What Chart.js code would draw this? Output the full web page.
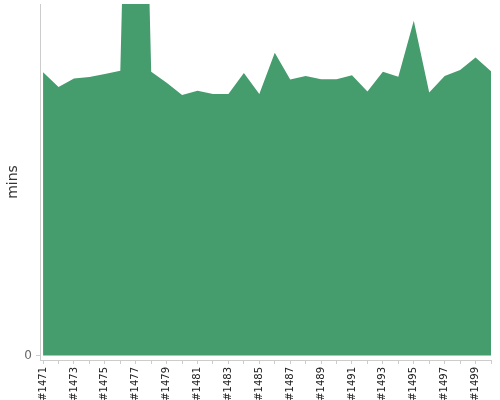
<!DOCTYPE html>
<html>
<head>
<meta charset="utf-8">
<script src="https://cdn.jsdelivr.net/npm/chart.js@4"></script>
<style>
  html,body{margin:0;padding:0;background:#fff;}
  #wrap{width:500px;height:400px;}
</style>
</head>
<body>
<div id="wrap"><canvas id="c" width="500" height="400"></canvas></div>
<script>
const builds = ["#1471","#1472","#1473","#1474","#1475","#1476","#1477","#1478","#1479","#1480",
  "#1481","#1482","#1483","#1484","#1485","#1486","#1487","#1488","#1489","#1490",
  "#1491","#1492","#1493","#1494","#1495","#1496","#1497","#1498","#1499","#1500"];
const durations = [80.6,76.4,78.8,79.2,80.1,81.0,260,80.7,77.6,74.1,
  75.3,74.4,74.4,80.4,74.4,86.1,78.5,79.5,78.6,78.6,
  79.7,75.1,80.7,79.3,95.2,74.8,79.5,81.2,84.8,80.9];
const yTicks = [0];

const font = "'DejaVu Sans', sans-serif";
new Chart(document.getElementById('c'), {
  type: 'line',
  data: {
    datasets: [{
      data: durations.map((v, i) => ({x: i, y: v})),
      fill: 'origin',
      backgroundColor: '#459c6c',
      borderWidth: 0,
      pointRadius: 0,
      tension: 0
    }]
  },
  options: {
    responsive: false,
    animation: false,
    layout: {padding: {top: 4, right: 9, left: 0, bottom: 0}},
    plugins: {legend: {display: false}, tooltip: {enabled: false}},
    scales: {
      x: {
        type: 'linear',
        min: -0.2,
        max: builds.length - 1,
        afterBuildTicks: s => { s.ticks = builds.map((_, i) => ({value: i})); },
        afterFit: s => { s.height = 40; s.paddingLeft = 0; s.paddingRight = 0; },
        grid: {drawOnChartArea: false, tickLength: 4, color: '#ccc'},
        border: {color: '#ccc'},
        ticks: {
          autoSkip: false,
          maxRotation: 90, minRotation: 90,
          padding: 3,
          color: '#222',
          font: {family: font, size: 10},
          callback: v => (v % 2 === 0 ? builds[v] : '')
        }
      },
      y: {
        min: -1.28,
        max: 100,
        afterBuildTicks: s => { s.ticks = yTicks.map(v => ({value: v})); },
        afterFit: s => { s.width = 40; s.paddingTop = 0; s.paddingBottom = 0; },
        grid: {drawOnChartArea: false, tickLength: 4, color: '#ccc'},
        border: {color: '#ccc'},
        title: {display: true, text: 'mins', color: '#333', font: {family: font, size: 14}, padding: {top: 5, bottom: 0}},
        ticks: {color: '#666', padding: 4, font: {family: font, size: 12}}
      }
    }
  }
});
</script>
</body>
</html>
